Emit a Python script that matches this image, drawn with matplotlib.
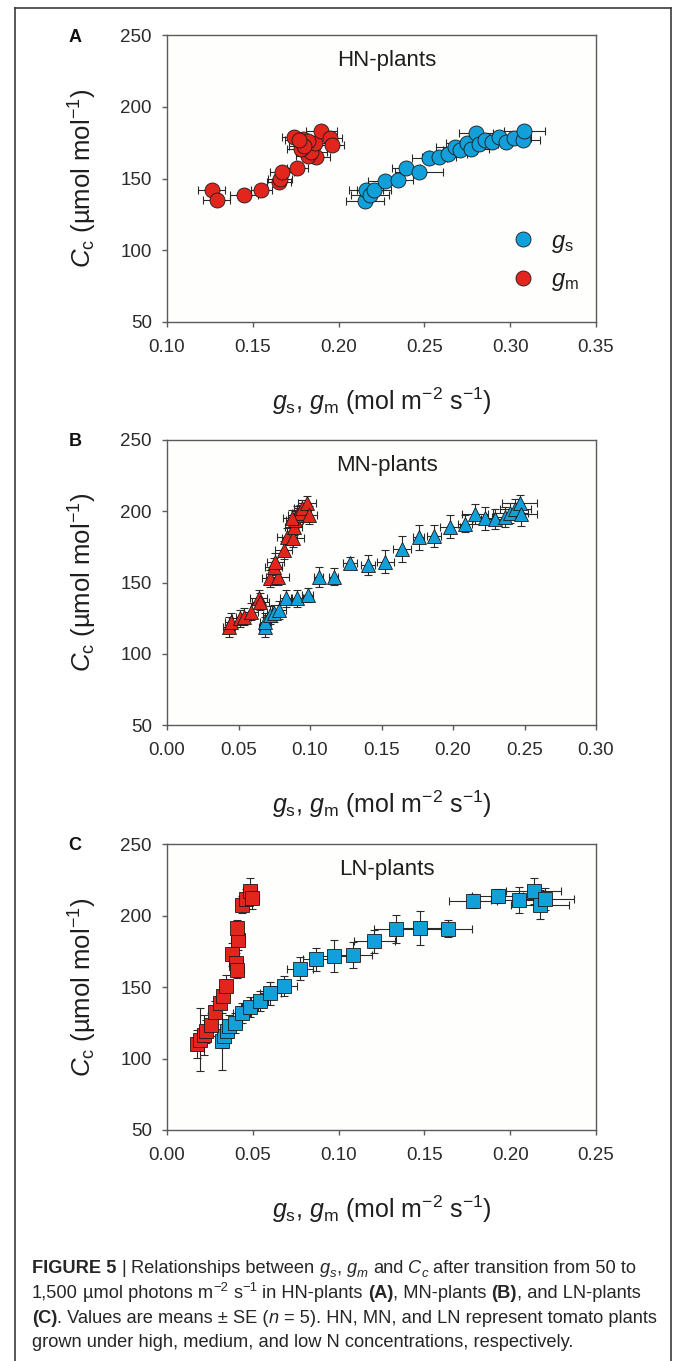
import matplotlib
matplotlib.use('Agg')
import matplotlib.pyplot as plt
from matplotlib.lines import Line2D
from matplotlib import font_manager as fm

plt.rcParams['font.family'] = ['Liberation Sans', 'DejaVu Sans']
plt.rcParams['mathtext.fontset'] = 'custom'
plt.rcParams['mathtext.rm'] = 'Liberation Sans'
plt.rcParams['mathtext.it'] = 'Liberation Sans:italic'
plt.rcParams['mathtext.bf'] = 'Liberation Sans:bold'

# ---------------- data ----------------
# Panel A: HN-plants (circles)
hn_gm_x = [0.126, 0.129, 0.145, 0.155, 0.165, 0.166, 0.167, 0.176, 0.187, 0.182, 0.184,
           0.178, 0.186, 0.174, 0.179, 0.182, 0.190, 0.195, 0.196, 0.180, 0.177]
hn_gm_y = [141.9, 134.7, 138.6, 141.9, 147.7, 149.5, 154.2, 157.4, 165.1, 165.5, 168.6,
           170.9, 174.4, 179.1, 177.4, 176.0, 183.3, 177.9, 173.3, 172.5, 176.5]
hn_gm_xerr = [0.008, 0.008, 0.008, 0.006, 0.007, 0.007, 0.007, 0.006, 0.008, 0.007, 0.009,
              0.008, 0.008, 0.007, 0.008, 0.008, 0.009, 0.007, 0.007, 0.009, 0.008]
hn_gm_yerr = [3, 3, 2, 3, 3, 3, 3, 3, 3, 4, 3, 3, 3, 3, 4, 3, 3, 3, 3, 4, 3]

hn_gs_x = [0.2156, 0.2160, 0.2181, 0.2208, 0.2272, 0.2346, 0.2393, 0.2467, 0.2529, 0.2587,
           0.2638, 0.2680, 0.2709, 0.2748, 0.2774, 0.2801, 0.2820, 0.2855, 0.2894, 0.2933,
           0.2976, 0.3020, 0.3075, 0.3082]
hn_gs_y = [134.2, 141.9, 138.4, 141.9, 148.1, 149.3, 157.4, 154.2, 164.4, 165.1,
           167.4, 172.1, 169.8, 174.4, 170.9, 181.4, 173.7, 176.7, 175.6, 179.1,
           175.6, 177.9, 176.7, 183.3]
hn_gs_xerr = [0.011, 0.010, 0.011, 0.010, 0.010, 0.009, 0.008, 0.014, 0.010, 0.010,
              0.011, 0.011, 0.010, 0.012, 0.010, 0.010, 0.011, 0.010, 0.010, 0.009,
              0.010, 0.010, 0.010, 0.012]
hn_gs_yerr = [3, 3, 3, 3, 3, 3, 3, 3, 3, 3, 3, 3, 3, 3, 3, 3, 3, 3, 3, 3, 3, 3, 3, 3]

# Panel B: MN-plants (triangles)
mn_gm_x = [0.0434, 0.0448, 0.0508, 0.0536, 0.0587, 0.0641, 0.0653, 0.0723, 0.0774, 0.0746,
           0.0757, 0.0816, 0.0839, 0.0881, 0.0886, 0.0893, 0.0909, 0.0932, 0.0946, 0.0979,
           0.0991, 0.0874]
mn_gm_y = [119.0, 122.5, 124.8, 126.0, 129.5, 138.9, 136.6, 152.9, 154.1, 161.1,
           164.6, 172.8, 182.2, 181.0, 189.2, 193.9, 197.4, 198.5, 202.0, 205.6,
           197.4, 195.0]
mn_gm_xerr = [0.004, 0.004, 0.005, 0.005, 0.005, 0.006, 0.006, 0.006, 0.008, 0.006,
              0.006, 0.006, 0.007, 0.008, 0.006, 0.006, 0.006, 0.006, 0.006, 0.006,
              0.006, 0.006]
mn_gm_yerr = [7, 6, 6, 6, 6, 6, 6, 6, 6, 6, 6, 6, 6, 6, 6, 6, 6, 6, 6, 5, 6, 6]

mn_gs_x = [0.0683, 0.0688, 0.0723, 0.0746, 0.0781, 0.0832, 0.0909, 0.0984, 0.1061, 0.1166,
           0.1282, 0.1406, 0.1527, 0.1643, 0.1760, 0.1865, 0.1977, 0.2082, 0.2156, 0.2222,
           0.2296, 0.2366, 0.2401, 0.2436, 0.2466, 0.2476]
mn_gs_y = [119.0, 122.5, 127.2, 128.3, 130.7, 138.9, 138.9, 141.2, 154.1, 154.1,
           163.9, 162.3, 164.6, 173.3, 181.7, 182.6, 189.2, 191.1, 197.8, 195.0,
           194.3, 196.2, 199.0, 201.3, 205.6, 197.8]
mn_gs_xerr = [0.004, 0.004, 0.005, 0.005, 0.005, 0.004, 0.004, 0.004, 0.003, 0.003,
              0.005, 0.005, 0.006, 0.006, 0.004, 0.005, 0.007, 0.005, 0.009, 0.008,
              0.010, 0.009, 0.012, 0.011, 0.012, 0.011]
mn_gs_yerr = [7, 6, 6, 6, 6, 6, 6, 5, 7, 6, 4, 7, 8, 9, 9, 8, 8, 6, 7, 8, 7, 7, 7, 7, 6, 8]

# Panel C: LN-plants (squares)
ln_gm_x = [0.0175, 0.0194, 0.0218, 0.0229, 0.0258, 0.0282, 0.0307, 0.0326, 0.0342, 0.0379,
           0.0404, 0.0408, 0.0412, 0.0408, 0.0437, 0.0458, 0.0482, 0.0495]
ln_gm_y = [110.2, 113.1, 116.6, 118.9, 123.6, 132.2, 138.8, 143.4, 150.4, 173.0,
           166.7, 162.0, 183.0, 191.2, 207.5, 211.7, 216.9, 212.2]
ln_gm_xerr = [0.003, 0.003, 0.003, 0.003, 0.003, 0.003, 0.003, 0.003, 0.003, 0.003,
              0.004, 0.004, 0.004, 0.003, 0.003, 0.004, 0.004, 0.004]
ln_gm_yerr = [10, 22, 14, 8, 8, 8, 7, 7, 8, 8, 7, 6, 7, 6, 6, 7, 9, 8]

ln_gs_x = [0.0320, 0.0330, 0.0350, 0.0359, 0.0398, 0.0437, 0.0482, 0.0540, 0.0602, 0.0680,
           0.0773, 0.0870, 0.0971, 0.1082, 0.1208, 0.1336, 0.1476, 0.1636, 0.1781, 0.1927,
           0.2049, 0.2136, 0.2175, 0.2204]
ln_gs_y = [111.9, 115.4, 118.9, 122.4, 124.8, 131.8, 135.7, 140.4, 145.7, 150.4,
           162.8, 169.5, 171.8, 172.5, 181.9, 190.5, 191.2, 190.7, 210.3, 213.8,
           211.0, 217.2, 207.5, 211.5]
ln_gs_xerr = [0.003, 0.003, 0.004, 0.004, 0.004, 0.005, 0.005, 0.005, 0.006, 0.008,
              0.0075, 0.008, 0.009, 0.011, 0.012, 0.013, 0.012, 0.014, 0.014, 0.015,
              0.016, 0.016, 0.017, 0.017]
ln_gs_yerr = [20, 8, 8, 8, 7, 7, 7, 7, 8, 7, 8, 8, 11, 9, 8, 10, 12, 6, 5, 5, 9, 9, 10, 8]

panels = [
    dict(letter='A', title='HN-plants', marker='o', ms=10.8, xlim=(0.10, 0.35),
         xticks=[0.10, 0.15, 0.20, 0.25, 0.30, 0.35],
         gs=(hn_gs_x, hn_gs_y, hn_gs_xerr, hn_gs_yerr),
         gm=(hn_gm_x, hn_gm_y, hn_gm_xerr, hn_gm_yerr), top=35, bottom=322),
    dict(letter='B', title='MN-plants', marker='^', ms=10, xlim=(0.0, 0.30),
         xticks=[0.00, 0.05, 0.10, 0.15, 0.20, 0.25, 0.30],
         gs=(mn_gs_x, mn_gs_y, mn_gs_xerr, mn_gs_yerr),
         gm=(mn_gm_x, mn_gm_y, mn_gm_xerr, mn_gm_yerr), top=440, bottom=725),
    dict(letter='C', title='LN-plants', marker='s', ms=9.4, xlim=(0.0, 0.25),
         xticks=[0.00, 0.05, 0.10, 0.15, 0.20, 0.25],
         gs=(ln_gs_x, ln_gs_y, ln_gs_xerr, ln_gs_yerr),
         gm=(ln_gm_x, ln_gm_y, ln_gm_xerr, ln_gm_yerr), top=844, bottom=1130),
]
yticks = [50, 100, 150, 200, 250]

BLUE = '#12a0da'
RED = '#e2261e'
W, H = 674, 1361
fig = plt.figure(figsize=(W / 100, H / 100), dpi=100)
fig.patch.set_facecolor('white')

XLABEL = r'$g_{\mathrm{s}}$, $g_{\mathrm{m}}$ (mol m$^{\mathrm{-2}}$ s$^{\mathrm{-1}}$)'
YLABEL = r'$C_{\mathrm{c}}$ (µmol mol$^{\mathrm{-1}}$)'

AX_L, AX_R = 167, 596
for p in panels:
    ax = fig.add_axes([AX_L / W, 1 - p['bottom'] / H, (AX_R - AX_L) / W,
                       (p['bottom'] - p['top']) / H])
    ax.set_facecolor('#fefefc')
    for key, col in (('gs', BLUE), ('gm', RED)):
        x, y, xe, ye = p[key]
        ax.errorbar(x, y, xerr=xe, yerr=ye, fmt='none', ecolor='#2a2a2a',
                    elinewidth=0.8, capsize=2.6, capthick=0.8, zorder=2)
        ax.plot(x, y, linestyle='none', marker=p['marker'], ms=p['ms'],
                mfc=col, mec='#1a1a1a', mew=0.6, zorder=3)
    ax.set_xlim(*p['xlim'])
    ax.set_ylim(50, 250)
    ax.set_xticks(p['xticks'])
    ax.set_xticklabels(['%.2f' % v for v in p['xticks']])
    ax.set_yticks(yticks)
    for s in ax.spines.values():
        s.set_color('#5a5a5a')
        s.set_linewidth(1.0)
    ax.tick_params(direction='out', length=3.5, width=1, colors='#5a5a5a',
                   labelcolor='#2b2b2b', labelsize=13.5)
    ax.tick_params(axis='x', pad=9)
    ax.tick_params(axis='y', pad=7.5)
    ax.set_xlabel(XLABEL, fontsize=18, color='#1e1e1e')
    ax.xaxis.label.set_va('center')
    ax.set_ylabel(YLABEL, fontsize=18.5, color='#1e1e1e')
    ax.yaxis.label.set_va('center')
    ax.yaxis.set_label_coords(-(AX_L - 83) / (AX_R - AX_L), 0.5)
    ax.xaxis.set_label_coords(0.5, -(79) / (p['bottom'] - p['top']))
    ax.text(0.513, 0.912, p['title'], transform=ax.transAxes, ha='center', va='center',
            fontsize=16, color='#1e1e1e')
    fig.text(75 / W, 1 - (p['top'] + 2) / H, p['letter'], ha='center', va='center',
             fontsize=13, fontweight='bold', color='#111111')
    if p['letter'] == 'A':
        handles = [Line2D([], [], linestyle='none', marker='o', ms=10.8, mfc=BLUE,
                          mec='#1a1a1a', mew=0.6),
                   Line2D([], [], linestyle='none', marker='o', ms=10.8, mfc=RED,
                          mec='#1a1a1a', mew=0.6)]
        ax.legend(handles, [r'$g_{\mathrm{s}}$', r'$g_{\mathrm{m}}$'], loc='upper left',
                  bbox_to_anchor=(0.807, 0.318), frameon=False, fontsize=17,
                  handlelength=0.8, handletextpad=0.8, labelspacing=0.62,
                  borderpad=0, borderaxespad=0, labelcolor='#1e1e1e')

# outer frame (open at bottom)
fc = '#3c3c3c'
fig.add_artist(Line2D([15 / W, 15 / W], [0, 1 - 8 / H], color=fc, lw=1.2))
fig.add_artist(Line2D([671 / W, 671 / W], [0, 1 - 8 / H], color=fc, lw=1.2))
fig.add_artist(Line2D([15 / W, 671 / W], [1 - 8 / H, 1 - 8 / H], color=fc, lw=1.2))

# ---------------- caption ----------------
names = {f.name for f in fm.fontManager.ttflist}
CAP_FONT = 'Liberation Sans Narrow' if 'Liberation Sans Narrow' in names else 'Liberation Sans'
CAP_COLOR = '#262626'
renderer = fig.canvas.get_renderer()

line1 = [('FIGURE 5', 'b'), (' ', ''), ('|', 'r'), (' ', ''), ('Relationships between', 'r'),
         (' ', ''), ('g', 'i'), ('s', 'isub'), (',', 'r'), (' ', ''), ('g', 'i'), ('m', 'isub'),
         (' ', ''), ('and', 'r'), (' ', ''), ('C', 'i'), ('c', 'isub'), (' ', ''),
         ('after transition from 50 to', 'r')]
line2 = [('1,500', 'r'), (' ', ''), ('µmol photons m', 'r'), ('−2', 'sup'), (' ', ''),
         ('s', 'r'), ('−1', 'sup'), (' ', ''), ('in HN-plants', 'r'), (' ', ''), ('(A)', 'b'),
         (', MN-plants', 'r'), (' ', ''), ('(B)', 'b'), (', and LN-plants', 'r')]
line3 = [('(C)', 'b'), ('. Values are means ± SE (', 'r'), ('n', 'i'), (' ', ''),
         ('= 5). HN, MN, and LN represent tomato plants', 'r')]
line4 = [('grown under high, medium, and low N concentrations, respectively.', 'r')]


def make(x, y, s, kind, fs, draw=True):
    kw = dict(fontsize=fs, family=[CAP_FONT, 'DejaVu Sans'], color=CAP_COLOR,
              va='baseline', ha='left')
    dy = 0
    if kind == 'b':
        kw['fontweight'] = 'bold'
    elif kind == 'i':
        kw['fontstyle'] = 'italic'
    elif kind == 'isub':
        kw['fontstyle'] = 'italic'
        kw['fontsize'] = fs * 0.72
        dy = -0.22 * fs * 100 / 72
    elif kind == 'sup':
        kw['fontsize'] = fs * 0.72
        dy = 0.38 * fs * 100 / 72
    t = fig.text(x / W, 1 - (y - dy) / H, s, **kw)
    w = t.get_window_extent(renderer).width
    if not draw:
        t.remove()
    return w


def space_w(fs):
    a = make(0, 0, 'n n', 'r', fs, draw=False)
    b = make(0, 0, 'nn', 'r', fs, draw=False)
    return a - b


def line_width(tokens, fs):
    tot = 0
    for s, k in tokens:
        tot += space_w(fs) if s == ' ' else make(0, 0, s, k, fs, draw=False)
    return tot


def draw_line(tokens, x, y, fs):
    sw = space_w(fs)
    for s, k in tokens:
        if s == ' ':
            x += sw
        else:
            x += make(x, y, s, k, fs)


base = 10.0
widest = max(line_width(t, base) for t in (line1, line2, line3, line4))
CAP_FS = base * (658 - 32) / widest
for tokens, yb in ((line1, 1273), (line2, 1298), (line3, 1323), (line4, 1347)):
    draw_line(tokens, 32, yb, CAP_FS)

fig.savefig('out.png', dpi=100, facecolor='white')
